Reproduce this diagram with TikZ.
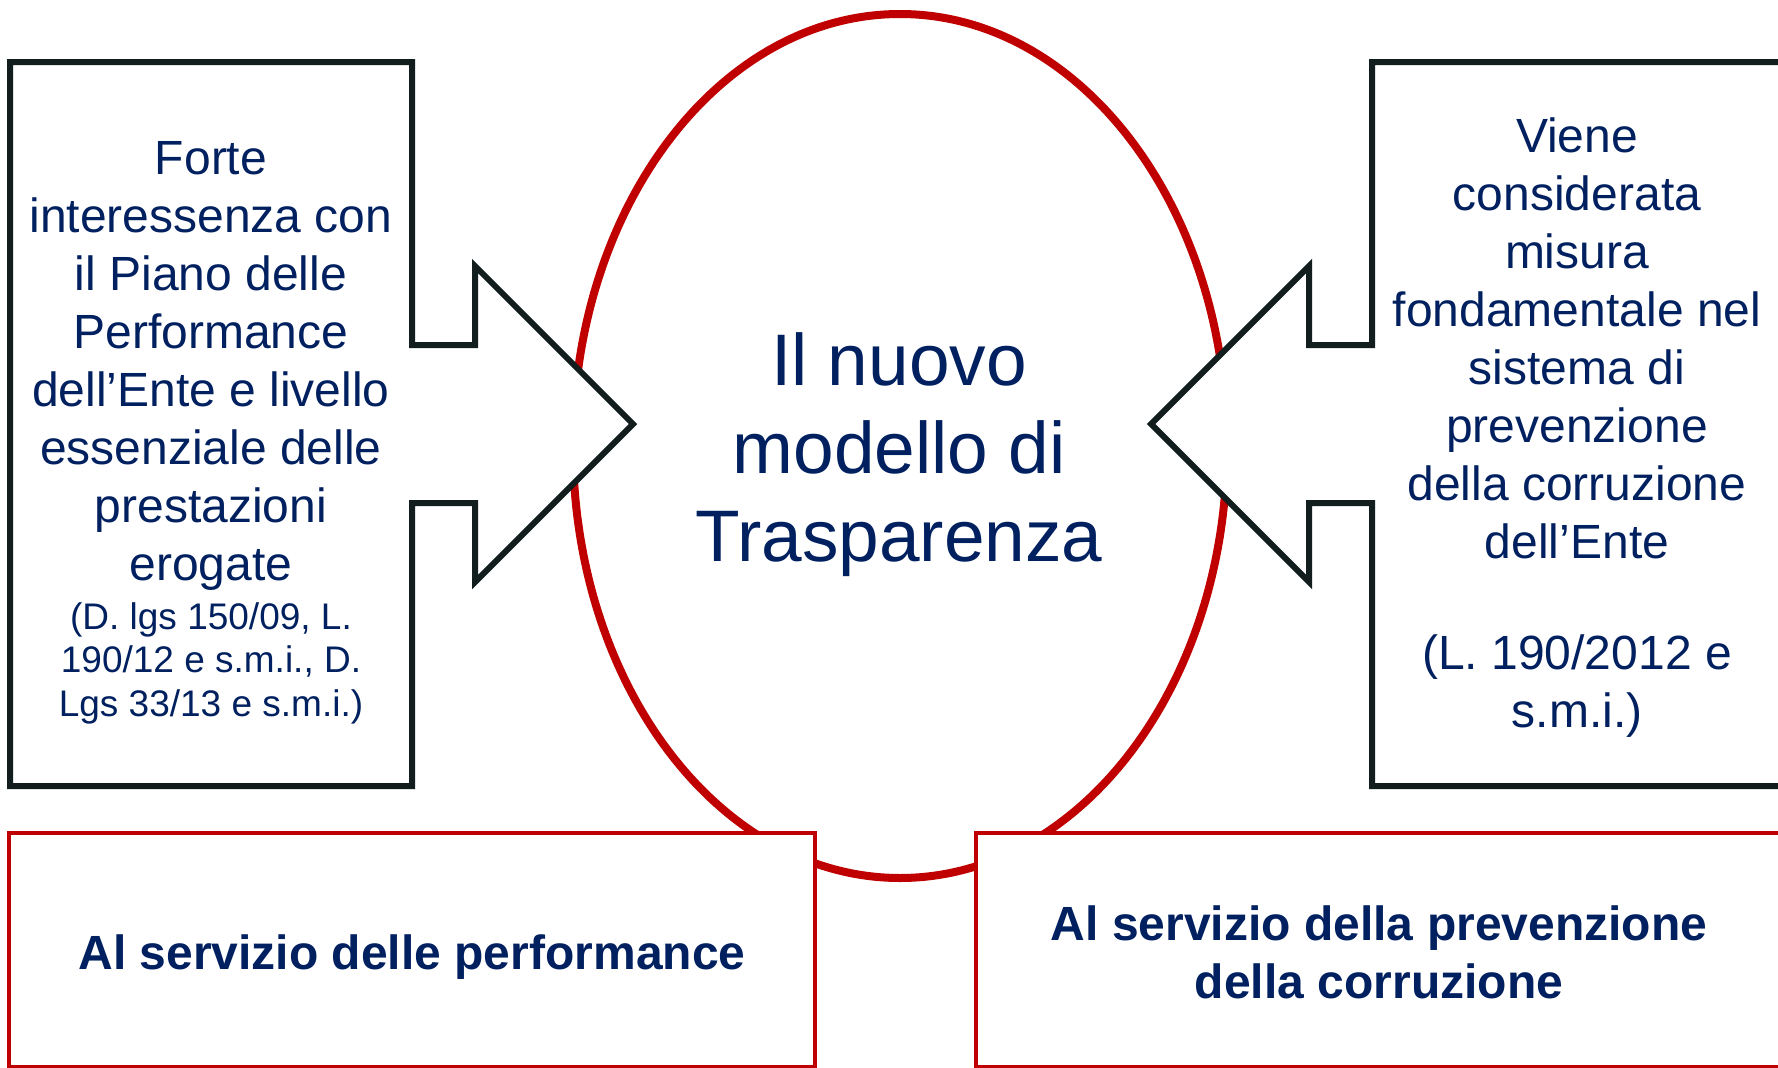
\documentclass[tikz,border=0pt]{standalone}
\usepackage{fontspec}
\setmainfont{Liberation Sans}
\usetikzlibrary{shapes,arrows}
\usetikzlibrary{positioning}
\usetikzlibrary{calc}
\definecolor{blu}{RGB}{0,32,96}
\definecolor{rosso}{RGB}{192,0,0}
\definecolor{scuro}{RGB}{18,30,30}

\begin{document}
\begin{tikzpicture}[x=1pt,y=-1pt,
freccia/.style={draw=scuro,line width=6pt,fill=white,line join=miter},
riquadro/.style={draw=rosso,line width=4.5pt,fill=white,rectangle,minimum width=806pt,minimum height=234pt},
testo/.style={text=blu,align=center,font=\fontsize{48}{58}\selectfont},
grassetto/.style={testo,font=\fontsize{48}{58}\selectfont\bfseries}]

\clip (0,0) rectangle (1778,1068);

% ovale centrale
\node[draw=rosso,line width=8pt,ellipse,minimum width=654pt,minimum height=864pt,inner sep=0pt] (modello) at (900,446) {};
\node[testo,font=\fontsize{73}{88}\selectfont] (titolo) at (899,455) {Il nuovo\\modello di\\Trasparenza};

% frecce laterali
\draw[freccia] (10,62) -- (412,62) -- (412,345) -- +(63,0) -- +(63,-79) -- (633,424) -- (475,582) -- +(0,-79) -- (412,503) -- (412,786) -- (10,786) -- cycle;
\draw[freccia] (1790,62) -- (1372,62) -- (1372,345) -- +(-63,0) -- +(-63,-79) -- (1151,424) -- (1309,582) -- +(0,-79) -- (1372,503) -- (1372,786) -- (1790,786) -- cycle;

\node[testo] (sinistra) at (211,433) {Forte\\interessenza con\\il Piano delle\\Performance\\dell’Ente e livello\\essenziale delle\\prestazioni\\erogate\\[-9pt]\fontsize{37}{44}\selectfont (D. lgs 150/09, L.\\[-15pt]\fontsize{37}{44}\selectfont 190/12 e s.m.i., D.\\[-14pt]\fontsize{37}{44}\selectfont Lgs 33/13 e s.m.i.)};
\node[testo] (destra) at (1577,428) {Viene\\considerata\\misura\\fondamentale nel\\sistema di\\prevenzione\\della corruzione\\dell’Ente\\ \\[-5pt](L. 190/2012 e\\s.m.i.)};

% riquadri in basso
\node[riquadro] (performance) at (412,950) {};
\node[riquadro] (corruzione) at (1379,950) {};
\node[grassetto] (servizio1) at ($(performance)+(0,7)$) {Al servizio delle performance};
\node[grassetto] (servizio2) at ($(corruzione)+(0,2)$) {Al servizio della prevenzione\\della corruzione};
\end{tikzpicture}
\end{document}
